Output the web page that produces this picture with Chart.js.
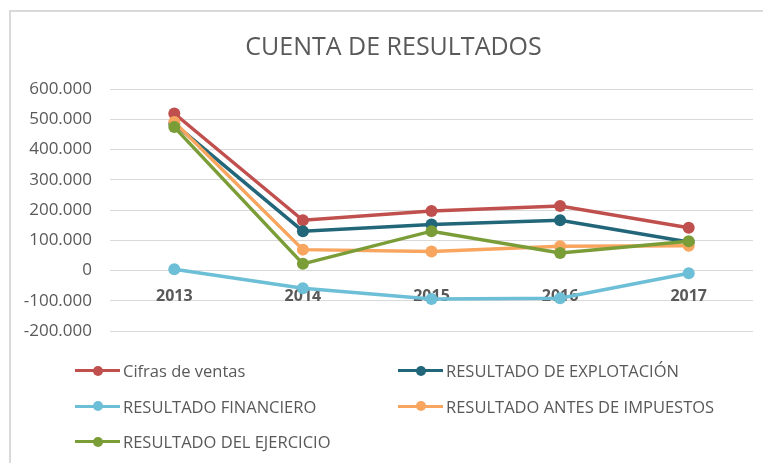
<!DOCTYPE html>
<html>
<head>
<meta charset="utf-8">
<script src="https://cdn.jsdelivr.net/npm/chart.js@4"></script>
<style>
  html, body { margin: 0; padding: 0; background: #fff; }
  #wrap { position: relative; width: 763px; height: 463px; overflow: hidden; }
  #frame { position: absolute; left: 9px; top: 10px; width: 800px; height: 500px;
           border-left: 2px solid #d9d9d9; border-top: 2px solid #d9d9d9; }
  #chart { position: absolute; left: 0; top: 0; }
  #legend { position: absolute; left: 75px; top: 353px; width: 680px;
            display: grid; grid-template-columns: 323px 323px; grid-auto-rows: 35.5px;
            font-family: 'Open Sans', sans-serif; font-size: 16.5px; color: #595959; }
  .item { display: flex; align-items: center; height: 35.5px; white-space: nowrap; }
  .mark { position: relative; width: 45px; height: 10px; margin-right: 3px; flex: none; }
  .mark .ln { position: absolute; left: 0; right: 0; top: 3.5px; height: 3px; }
  .mark .dot { position: absolute; left: 17.5px; top: 0; width: 10px; height: 10px; border-radius: 50%; }
</style>
</head>
<body>
<div id="wrap">
  <div id="frame"></div>
  <canvas id="chart" width="763" height="463"></canvas>
  <div id="legend"></div>
</div>
<script>
// ── datos ──────────────────────────────────────────────
const years = ['2013', '2014', '2015', '2016', '2017'];
const cifrasVentas   = [519000, 166000, 197000, 213000, 141000];
const resExplotacion = [485000, 130000, 152000, 166000, 94000];
const resFinanciero  = [4000, -59000, -94000, -92000, -9000];
const resAntesImp    = [491000, 69000, 63000, 80000, 82000];
const resEjercicio   = [474000, 22000, 130000, 58000, 97000];
const yMin = -200000, yMax = 600000, yStep = 100000;

const TXT = '#595959';
const GRID = '#d9d9d9';

function fmt(v) {
  const s = String(Math.abs(v)).replace(/\B(?=(\d{3})+(?!\d))/g, '.');
  return v < 0 ? '-' + s : s;
}

function serie(label, data, color, order) {
  return {
    label, data, order,
    borderColor: color,
    backgroundColor: color,
    pointBackgroundColor: color,
    pointBorderColor: color,
    borderWidth: 3.5,
    pointRadius: 6,
    pointBorderWidth: 0,
    tension: 0,
    fill: false,
  };
}

// el título va centrado dentro del marco, no en todo el lienzo
const titleShift = {
  id: 'titleShift',
  afterLayout(c) { c.titleBlock.left = 34; }
};

const chart = new Chart(document.getElementById('chart'), {
  type: 'line',
  data: {
    labels: years,
    datasets: [
      serie('Cifras de ventas', cifrasVentas, '#C0504D', 4),
      serie('RESULTADO DE EXPLOTACIÓN', resExplotacion, '#22667A', 3),
      serie('RESULTADO FINANCIERO', resFinanciero, '#6CBFD6', 2),
      serie('RESULTADO ANTES DE IMPUESTOS', resAntesImp, '#F8A55F', 1),
      serie('RESULTADO DEL EJERCICIO', resEjercicio, '#7A9D37', 0),
    ]
  },
  plugins: [titleShift],
  options: {
    responsive: false,
    animation: false,
    devicePixelRatio: 1,
    layout: { padding: { left: 0, right: 10, top: 0, bottom: 132 } },
    plugins: {
      legend: { display: false },
      tooltip: { enabled: false },
      title: {
        display: true,
        text: 'CUENTA DE RESULTADOS',
        color: TXT,
        font: { family: 'Open Sans', size: 25, weight: 'normal' },
        padding: { top: 33, bottom: 26 }
      }
    },
    scales: {
      x: {
        position: { y: 0 },
        z: 1,
        offset: true,
        grid: { display: false, drawTicks: false },
        border: { display: false },
        ticks: { color: TXT, padding: 16, font: { family: 'Open Sans', size: 16, weight: 'bold' } }
      },
      y: {
        min: yMin,
        max: yMax,
        afterFit: s => { s.width = 110; },
        grid: { color: GRID, lineWidth: 1, drawTicks: false },
        border: { display: false },
        ticks: {
          stepSize: yStep,
          color: TXT,
          padding: 18,
          font: { family: 'Open Sans', size: 17 },
          callback: v => fmt(v)
        }
      }
    }
  }
});

// ── leyenda en HTML, dos columnas ─────────────────────
const legend = document.getElementById('legend');
chart.data.datasets.forEach(ds => {
  const it = document.createElement('div');
  it.className = 'item';
  it.innerHTML = '<span class="mark"><span class="ln" style="background:' + ds.borderColor +
    '"></span><span class="dot" style="background:' + ds.borderColor + '"></span></span>';
  const t = document.createElement('span');
  t.textContent = ds.label;
  it.appendChild(t);
  legend.appendChild(it);
});
</script>
</body>
</html>
